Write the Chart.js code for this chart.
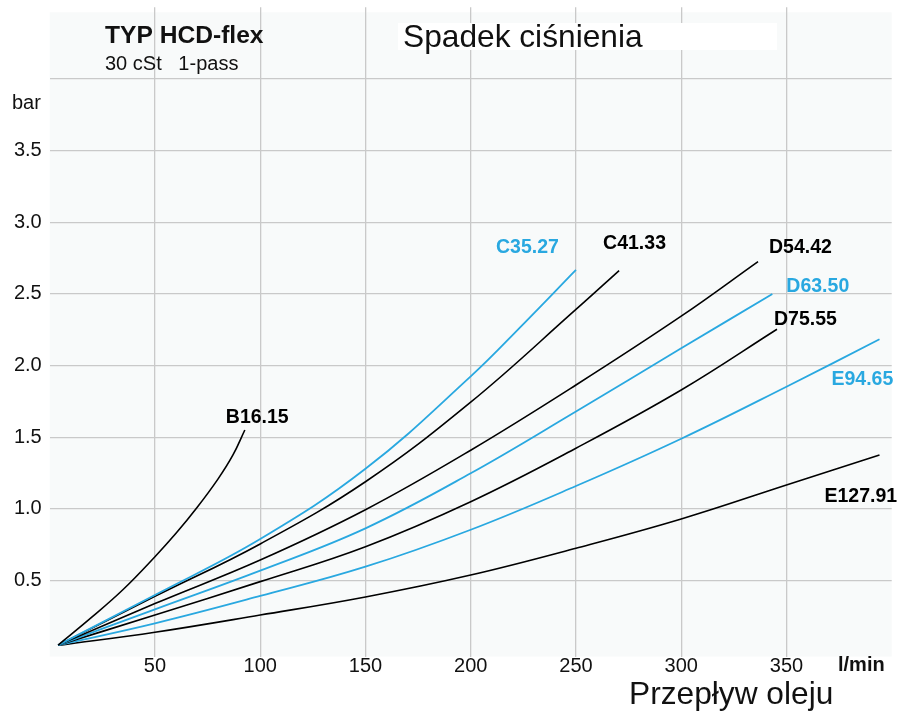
<!DOCTYPE html>
<html><head><meta charset="utf-8">
<script src="https://cdn.jsdelivr.net/npm/chart.js@4"></script>
<style>html,body{margin:0;padding:0;background:#fff}#wrap{width:900px;height:711px;position:relative}canvas{display:block}</style>
</head><body><div id="wrap"><canvas id="c" width="900" height="711"></canvas></div>
<script>
// ---- data (flow l/min, pressure drop bar) ----
const xTicks = [50, 100, 150, 200, 250, 300, 350];
const yTicks = [0.5, 1.0, 1.5, 2.0, 2.5, 3.0, 3.5, 4.0];
const seriesNames = ['B16.15', 'C35.27', 'C41.33', 'D54.42', 'D63.50', 'D75.55', 'E94.65', 'E127.91'];

const flowB16 = [4, 20, 35, 50, 60, 70, 80, 87, 92.7];
const dpB16   = [0.05, 0.245, 0.44, 0.667, 0.83, 1.01, 1.21, 1.375, 1.551];
const flowC35 = [4, 50, 100, 150, 200, 225, 250];
const dpC35   = [0.05, 0.40, 0.79, 1.28, 1.925, 2.29, 2.668];
const flowC41 = [4, 50, 100, 150, 200, 250, 270.5];
const dpC41   = [0.05, 0.39, 0.756, 1.19, 1.745, 2.392, 2.663];
const flowD54 = [4, 50, 100, 150, 200, 250, 300, 336.5];
const dpD54   = [0.05, 0.34, 0.644, 0.995, 1.41, 1.865, 2.345, 2.726];
const flowD63 = [4, 50, 100, 150, 200, 250, 300, 343.3];
const dpD63   = [0.05, 0.30, 0.570, 0.865, 1.249, 1.68, 2.121, 2.50];
const flowD75 = [4, 50, 100, 150, 200, 250, 300, 345.5];
const dpD75   = [0.05, 0.26, 0.493, 0.737, 1.051, 1.424, 1.83, 2.254];
const flowE94 = [4, 50, 100, 150, 200, 250, 300, 350, 394.2];
const dpE94   = [0.05, 0.202, 0.393, 0.597, 0.855, 1.16, 1.49, 1.853, 2.184];
const flowE127 = [5, 50, 100, 150, 200, 250, 300, 350, 394.2];
const dpE127   = [0.05, 0.14, 0.26, 0.386, 0.539, 0.726, 0.93, 1.167, 1.377];

const flows = [flowB16, flowC35, flowC41, flowD54, flowD63, flowD75, flowE94, flowE127];
const drops = [dpB16, dpC35, dpC41, dpD54, dpD63, dpD75, dpE94, dpE127];

// ---- styles ----
const BLUE = '#29a8e0', BLACK = '#000000';
const seriesColors = [BLACK, BLUE, BLACK, BLACK, BLUE, BLACK, BLUE, BLACK];
// label offset from the curve end point (px): [dx to text left, dy to text middle]
const labelOffsets = [[-19, -12.5], [-80, -22], [-16, -27], [11, -14], [14, -7], [-3, -10], [-48, 40], [-55, 42]];
const FONT = '"Liberation Sans", Arial, Helvetica, sans-serif';

const datasets = seriesNames.map((name, i) => ({
  label: name,
  data: flows[i].map((x, j) => ({ x: x, y: drops[i][j] })),
  borderColor: seriesColors[i],
  borderWidth: seriesColors[i] === BLUE ? 1.8 : 1.6,
  pointRadius: 0,
  fill: false,
  tension: 0.4
}));

const decoPlugin = {
  id: 'deco',
  beforeDraw(chart) {
    const { ctx, chartArea: a } = chart;
    ctx.save();
    ctx.fillStyle = '#f8fafa';
    ctx.fillRect(a.left, a.top + 5, a.right - a.left, a.bottom - a.top - 5);
    ctx.restore();
  },
  afterDatasetsDraw(chart) {
    const ctx = chart.ctx;
    ctx.save();
    ctx.font = 'bold 19.5px ' + FONT;
    ctx.textBaseline = 'middle';
    ctx.textAlign = 'left';
    chart.data.datasets.forEach((ds, i) => {
      const pts = chart.getDatasetMeta(i).data;
      const p = pts[pts.length - 1];
      ctx.fillStyle = seriesColors[i];
      ctx.fillText(ds.label, p.x + labelOffsets[i][0], p.y + labelOffsets[i][1]);
    });
    ctx.restore();
  },
  afterDraw(chart) {
    const ctx = chart.ctx;
    ctx.save();
    // white box behind main title
    ctx.fillStyle = '#ffffff';
    ctx.fillRect(398, 23, 379, 27);
    ctx.fillStyle = '#111';
    ctx.textBaseline = 'alphabetic';
    ctx.textAlign = 'left';
    ctx.font = '31.7px ' + FONT;
    ctx.fillText('Spadek ciśnienia', 403, 47);
    ctx.fillText('Przepływ oleju', 629, 704);
    ctx.font = 'bold 24.6px ' + FONT;
    ctx.fillText('TYP HCD-flex', 105, 42.5);
    ctx.font = '20px ' + FONT;
    ctx.fillText('30 cSt   1-pass', 105, 70);
    ctx.font = '20px ' + FONT;
    ctx.fillText('bar', 12, 109);
    ctx.font = 'bold 20px ' + FONT;
    ctx.fillText('l/min', 838, 671);
    ctx.restore();
  }
};

new Chart(document.getElementById('c'), {
  type: 'line',
  data: { datasets: datasets },
  options: {
    responsive: false,
    animation: false,
    devicePixelRatio: 1,
    layout: { padding: { left: 0, right: 8.3, top: 7.3, bottom: 0 } },
    plugins: { legend: { display: false }, tooltip: { enabled: false } },
    scales: {
      x: {
        type: 'linear', min: 0, max: 400,
        afterBuildTicks: s => { s.ticks = xTicks.map(v => ({ value: v })); },
        afterFit: s => { s.height = 54.4; s.paddingLeft = 0; s.paddingRight = 0; },
        grid: { color: '#c9c9c9', lineWidth: 1.3, drawTicks: false },
        border: { display: false },
        ticks: { font: { size: 20, family: FONT }, color: '#111', padding: -2, maxRotation: 0, autoSkip: false,
          callback: v => String(v) }
      },
      y: {
        type: 'linear', min: -0.03, max: 4.5,
        afterBuildTicks: s => { s.ticks = yTicks.map(v => ({ value: v })); },
        afterFit: s => { s.width = 49.7; s.paddingTop = 0; s.paddingBottom = 0; },
        grid: { color: '#c9c9c9', lineWidth: 1.3, drawTicks: false },
        border: { display: false },
        ticks: { font: { size: 20, family: FONT }, color: '#111', padding: 8, autoSkip: false,
          callback: v => (v >= 4 ? '' : v.toFixed(1)) }
      }
    }
  },
  plugins: [decoPlugin]
});
</script>
</body></html>
